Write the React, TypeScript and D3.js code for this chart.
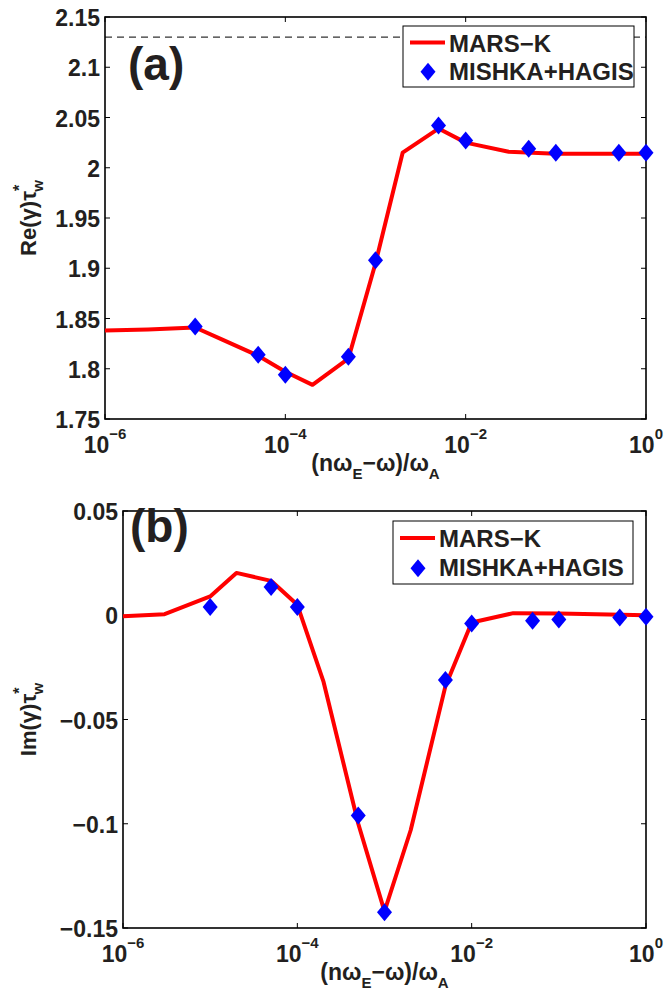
import * as d3 from "d3";

const FONT = "'Liberation Sans', Arial, Helvetica, sans-serif";
const INK = "#231f20";

// MARS-K curve sample points (x = (n*omegaE - omega)/omegaA)
const marsX = [1e-6, 3e-6, 1e-5, 2e-5, 5e-5, 1e-4, 2e-4, 5e-4, 1e-3, 2e-3, 5e-3, 1e-2, 3e-2, 1e-1, 1];
const marsReal = [1.838, 1.839, 1.841, 1.829, 1.813, 1.797, 1.784, 1.81, 1.905, 2.015, 2.039, 2.025, 2.016, 2.014, 2.014];
const marsImag = [-0.0005, 0.0005, 0.009, 0.0203, 0.0165, 0.005, -0.032, -0.1, -0.142, -0.103, -0.034, -0.0035, 0.001, 0.0008, 0];

// MISHKA+HAGIS points
const hagisX = [1e-5, 5e-5, 1e-4, 5e-4, 1e-3, 5e-3, 1e-2, 5e-2, 1e-1, 5e-1, 1];
const hagisReal = [1.842, 1.814, 1.794, 1.812, 1.908, 2.042, 2.027, 2.019, 2.015, 2.015, 2.015];
const hagisImag = [0.004, 0.0135, 0.004, -0.096, -0.1425, -0.031, -0.004, -0.0026, -0.002, -0.0011, -0.0007];

const xTicks = [1e-6, 1e-4, 1e-2, 1];
const xTickExponents = ["−6", "−4", "−2", "0"];

const realTicks = [1.75, 1.8, 1.85, 1.9, 1.95, 2, 2.05, 2.1, 2.15];
const realTickLabels = ["1.75", "1.8", "1.85", "1.9", "1.95", "2", "2.05", "2.1", "2.15"];
const imagTicks = [-0.15, -0.1, -0.05, 0, 0.05];
const imagTickLabels = ["−0.15", "−0.1", "−0.05", "0", "0.05"];

const idealWallLimit = 2.13;

const legendNames = ["MARS−K", "MISHKA+HAGIS"];

const DIAMOND = "M0,-9L7.5,0L0,9L-7.5,0Z";

type PanelProps = {
  left: number;
  right: number;
  top: number;
  bottom: number;
  yDomain: [number, number];
  yTicks: number[];
  yTickLabels: string[];
  lineY: number[];
  pointY: number[];
  tag: string;
  tagBaseline: number;
  tagX: number;
  yName: string;
  dashed?: number;
  legend: { width: number; height: number; dx: number; dy: number };
};

function Panel(p: PanelProps) {
  const x = d3.scaleLog().domain([1e-6, 1]).range([p.left, p.right]);
  const y = d3.scaleLinear().domain(p.yDomain).range([p.bottom, p.top]);
  const line = d3
    .line<number>()
    .x((_, i) => x(marsX[i]))
    .y((v) => y(v))(p.lineY) ?? "";

  const tick = 5;
  const lx = p.right - p.legend.dx - p.legend.width;
  const ly = p.top + p.legend.dy;
  const cx = (p.left + p.right) / 2;
  const cy = (p.top + p.bottom) / 2;

  return (
    <g fontFamily={FONT} fontWeight="bold" fill={INK}>
      {p.dashed !== undefined && (
        <line
          x1={p.left}
          x2={p.right}
          y1={y(p.dashed)}
          y2={y(p.dashed)}
          stroke="#333"
          strokeWidth={1.1}
          strokeDasharray="7 5"
        />
      )}

      {/* axes box */}
      <rect
        x={p.left}
        y={p.top}
        width={p.right - p.left}
        height={p.bottom - p.top}
        fill="none"
        stroke="#000"
        strokeWidth={1.6}
      />

      {p.yTicks.map((t, i) => (
        <g key={"y" + t}>
          <line x1={p.left} x2={p.left + tick} y1={y(t)} y2={y(t)} stroke="#000" strokeWidth={1} />
          <line x1={p.right} x2={p.right - tick} y1={y(t)} y2={y(t)} stroke="#000" strokeWidth={1} />
          <text x={p.left - 5} y={y(t) + 1} dy="0.35em" textAnchor="end" fontSize={23}>
            {p.yTickLabels[i]}
          </text>
        </g>
      ))}

      {xTicks.map((t, i) => (
        <g key={"x" + t}>
          <line x1={x(t)} x2={x(t)} y1={p.bottom} y2={p.bottom - tick} stroke="#000" strokeWidth={1} />
          <line x1={x(t)} x2={x(t)} y1={p.top} y2={p.top + tick} stroke="#000" strokeWidth={1} />
          <text x={x(t)} y={p.bottom + 34} textAnchor="middle" fontSize={23}>
            10
            <tspan fontSize={15} dy={-14}>
              {xTickExponents[i]}
            </tspan>
          </text>
        </g>
      ))}

      <path d={line} fill="none" stroke="#ff0000" strokeWidth={4} strokeLinejoin="round" />
      {hagisX.map((v, i) => (
        <path key={"d" + v} d={DIAMOND} transform={`translate(${x(v)},${y(p.pointY[i])})`} fill="#0000ff" />
      ))}

      <text x={p.tagX} y={p.tagBaseline} fontSize={46}>
        {p.tag}
      </text>

      {/* legend */}
      <rect x={lx} y={ly} width={p.legend.width} height={p.legend.height} fill="#fff" stroke="#000" strokeWidth={1} />
      <line
        x1={lx + 7}
        x2={lx + 42}
        y1={ly + p.legend.height * 0.27}
        y2={ly + p.legend.height * 0.27}
        stroke="#ff0000"
        strokeWidth={4}
      />
      <text x={lx + 46} y={ly + p.legend.height * 0.42} fontSize={24}>
        {legendNames[0]}
      </text>
      <path d={DIAMOND} transform={`translate(${lx + 25},${ly + p.legend.height * 0.75})`} fill="#0000ff" />
      <text x={lx + 46} y={ly + p.legend.height * 0.88} fontSize={24}>
        {legendNames[1]}
      </text>

      {/* x label */}
      <text x={cx} y={p.bottom + 52} textAnchor="middle" fontSize={23}>
        (nω<tspan fontSize={15} dy={8}>E</tspan>
        <tspan dy={-8}>−ω)/ω</tspan>
        <tspan fontSize={15} dy={8}>A</tspan>
      </text>

      {/* y label */}
      <text transform={`translate(36,${cy}) rotate(-90)`} textAnchor="middle" fontSize={22}>
        {p.yName}(γ)τ
        <tspan fontSize={16} dy={-11}>*</tspan>
        <tspan fontSize={15} dx={-7} dy={18}>w</tspan>
      </text>
    </g>
  );
}

export default function App() {
  return (
    <svg
      width={664}
      height={994}
      viewBox="0 0 664 994"
      style={{ position: "absolute", left: 0, top: 0, background: "#fff" }}
    >
      <rect width={664} height={994} fill="#fff" />
      <Panel
        left={105}
        right={646}
        top={17}
        bottom={419}
        yDomain={[1.75, 2.15]}
        yTicks={realTicks}
        yTickLabels={realTickLabels}
        lineY={marsReal}
        pointY={hagisReal}
        tag="(a)"
        tagX={128}
        tagBaseline={80}
        yName="Re"
        dashed={idealWallLimit}
        legend={{ width: 231, height: 61, dx: 12, dy: 9 }}
      />
      <Panel
        left={123}
        right={646}
        top={511}
        bottom={928}
        yDomain={[-0.15, 0.05]}
        yTicks={imagTicks}
        yTickLabels={imagTickLabels}
        lineY={marsImag}
        pointY={hagisImag}
        tag="(b)"
        tagX={130}
        tagBaseline={542}
        yName="Im"
        legend={{ width: 240, height: 63, dx: 13, dy: 10 }}
      />
    </svg>
  );
}
